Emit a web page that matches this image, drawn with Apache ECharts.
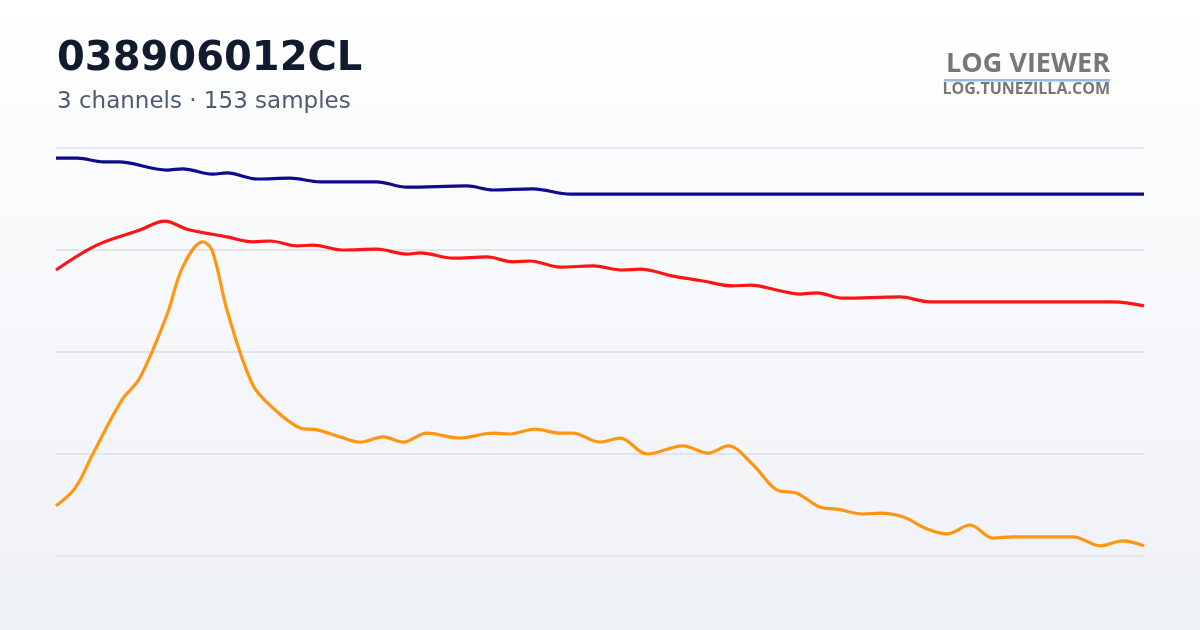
<!DOCTYPE html>
<html><head><meta charset="utf-8">
<script src="https://cdn.jsdelivr.net/npm/echarts@6/dist/echarts.min.js"></script>
<style>html,body{margin:0;padding:0;}#c{width:1200px;height:630px;}</style>
</head><body><div id="c"></div>
<script>
// sample index / value pairs (channels normalised, 0..100 on a shared hidden scale)
const blueX = [0,3,6.6,8.7,15.5,17.7,21.9,23.9,28.1,32.7,36.9,44.8,49.0,57.4,61.1,66.6,71.9,152];
const blueY = [97.5,97.5,96.6,96.6,94.6,94.9,93.6,93.9,92.4,92.6,91.7,91.7,90.4,90.7,89.7,90.0,88.7,88.7];
const redX = [0,5.7,11.7,15.2,18.3,23.9,27.5,29.9,33.7,35.9,40.0,44.8,49.0,50.9,55.5,60.2,63.8,66.2,70.4,75.0,79.2,81.6,86.2,90.4,94.6,97.0,101.1,103.9,106.3,109.9,117.9,122.1,147.7,152];
const redY = [70.1,76.2,79.9,82.1,80.1,78.2,77.0,77.2,76.0,76.2,75.0,75.2,74.0,74.3,73.0,73.3,72.1,72.3,70.8,71.1,70.1,70.3,68.6,67.4,66.2,66.4,65.0,64.2,64.5,63.2,63.5,62.3,62.3,61.3];
const orangeX = [0,2.7,5.2,9.2,11.7,15.5,17.7,20.5,21.8,24.0,27.5,30.3,34.1,36.5,39.7,42.5,45.7,48.5,51.8,56.4,61.1,63.4,66.9,70.4,72.2,76.0,78.8,82.6,87.6,91.1,93.9,97.4,100.7,103.5,106.7,109.1,112.7,115.1,118.3,121.7,124.5,127.7,130.9,133.7,142.1,145.9,149.0,152];
const orangeY = [12.3,16.7,25.2,38.2,43.6,59.1,70.8,77.0,75.0,59.6,41.9,36.3,31.4,30.9,29.2,27.9,29.2,27.9,30.1,28.9,30.1,29.9,31.1,30.1,30.1,27.9,28.9,25.0,27.0,25.2,27.0,22.3,16.2,15.4,12.0,11.5,10.3,10.5,9.6,6.6,5.4,7.6,4.4,4.7,4.7,2.5,3.7,2.5];
const yTicks = [0,25,50,75,100];

const pairs = (xs, ys) => xs.map((x, i) => [x, ys[i]]);
const chart = echarts.init(document.getElementById('c'), null, {renderer: 'canvas'});
const mkLine = (name, xs, ys, color) => ({
  name, type: 'line', data: pairs(xs, ys), smooth: 0.35, showSymbol: false,
  lineStyle: {color, width: 3.2}, itemStyle: {color}, animation: false
});
chart.setOption({
  backgroundColor: new echarts.graphic.LinearGradient(0, 0, 0, 1, [
    {offset: 0, color: '#ffffff'}, {offset: 1, color: '#eef1f6'}
  ]),
  animation: false,
  title: [
    {text: '038906012CL', left: 52, top: 35, textStyle: {fontFamily: 'DejaVu Sans', fontWeight: 'bold', fontSize: 40, color: '#111a2e'}},
    {text: '3 channels · 153 samples', left: 52, top: 86, textStyle: {fontFamily: 'DejaVu Sans', fontWeight: 'normal', fontSize: 23, color: '#4d5b70'}}
  ],
  graphic: [
    {type: 'text', right: 90, top: 51, style: {text: 'LOG VIEWER', font: 'bold 27px "Open Sans"', fill: '#777777'}},
    {type: 'rect', left: 944, top: 79, shape: {width: 166, height: 2.5}, style: {fill: '#93bbe0'}},
    {type: 'text', right: 90, top: 81, style: {text: 'LOG.TUNEZILLA.COM', font: 'bold 16px "Open Sans"', fill: '#777777'}}
  ],
  grid: {left: 56, right: 56, top: 148, bottom: 74, containLabel: false},
  xAxis: {type: 'value', min: 0, max: 152, show: false},
  yAxis: {type: 'value', min: yTicks[0], max: yTicks[yTicks.length - 1], interval: 25,
    axisLabel: {show: false}, axisLine: {show: false}, axisTick: {show: false},
    splitLine: {lineStyle: {color: '#e1e4ea', width: 2}}},
  series: [
    mkLine('ch1', blueX, blueY, '#0c0c8c'),
    mkLine('ch2', redX, redY, '#ff1414'),
    mkLine('ch3', orangeX, orangeY, '#ff9612')
  ]
});
</script></body></html>
